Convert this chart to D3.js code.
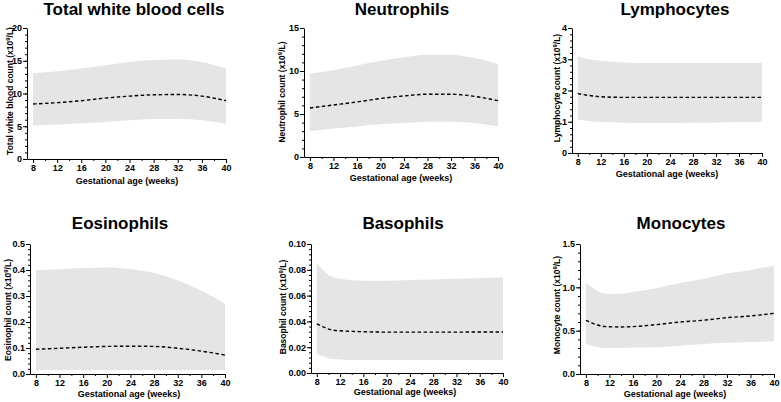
<!DOCTYPE html>
<html><head><meta charset="utf-8">
<script src="https://cdn.jsdelivr.net/npm/d3@7"></script>
<style>body{margin:0;background:#fff}svg{display:block;font-family:Arial,"Liberation Sans",sans-serif}</style>
</head><body><svg id="c" width="781" height="402"></svg>
<script>
// ---- data ----
const titles = ["Total white blood cells","Neutrophils","Lymphocytes","Eosinophils","Basophils","Monocytes"];
const yLabels = ["Total white blood count (x10","Neutrophil count (x10","Lymphocyte count (x10","Eosinophil count (x10","Basophil count  (x10","Monocyte count (x10"];
const xLabel = "Gestational age (weeks)";
const xTicks = [8,12,16,20,24,28,32,36,40];
const yMax = [20,15,4,0.5,0.10,1.5];
const yStep = [5,5,1,0.1,0.02,0.5];
const yDecimals = [0,0,0,1,2,1];

const wbcWeeks = [8,12,16,20,24,28,32,36,40];
const wbcUpper = [13.1,13.4,13.8,14.3,14.8,15.1,15.2,14.8,13.8];
const wbcLower = [5.1,5.25,5.45,5.65,5.9,6.1,6.1,5.9,5.4];
const wbcMedian = [8.4,8.6,8.9,9.3,9.6,9.8,9.85,9.6,8.9];

const neuWeeks = [8,12,16,20,24,28,32,36,40];
const neuUpper = [9.7,10.1,10.65,11.15,11.6,11.9,11.9,11.5,10.8];
const neuLower = [3.0,3.3,3.55,3.8,3.95,4.1,4.1,3.95,3.55];
const neuMedian = [5.7,6.05,6.4,6.8,7.1,7.3,7.3,7.05,6.55];

const lymWeeks = [8,10,12,16,20,24,28,32,36,40];
const lymUpper = [3.09,3.0,2.95,2.9,2.88,2.88,2.88,2.88,2.88,2.88];
const lymLower = [1.07,1.02,1.0,0.97,0.96,0.96,0.97,0.98,0.99,1.0];
const lymMedian = [1.9,1.84,1.8,1.78,1.78,1.78,1.78,1.78,1.78,1.78];

const eosWeeks = [8,12,16,20,24,28,32,36,40];
const eosUpper = [0.399,0.403,0.408,0.41,0.404,0.388,0.36,0.32,0.27];
const eosLower = [0.015,0.015,0.015,0.015,0.015,0.015,0.015,0.015,0.015];
const eosMedian = [0.095,0.099,0.103,0.106,0.107,0.106,0.099,0.088,0.073];

const basWeeks = [8,9,10,12,16,20,24,28,32,36,40];
const basUpper = [0.085,0.080,0.076,0.073,0.0715,0.0715,0.072,0.0725,0.073,0.0735,0.074];
const basLower = [0.015,0.013,0.0115,0.0105,0.010,0.010,0.010,0.010,0.010,0.010,0.010];
const basMedian = [0.038,0.036,0.034,0.0327,0.032,0.0317,0.0317,0.0317,0.0317,0.0318,0.0318];

const monWeeks = [8,9,10,12,14,16,20,24,28,32,36,40];
const monUpper = [1.05,1.0,0.955,0.92,0.925,0.945,0.99,1.05,1.1,1.16,1.2,1.25];
const monLower = [0.35,0.325,0.31,0.30,0.30,0.305,0.31,0.325,0.345,0.36,0.37,0.375];
const monMedian = [0.62,0.59,0.565,0.545,0.543,0.547,0.57,0.6,0.62,0.65,0.67,0.70];

const series = [
  [wbcWeeks,wbcUpper,wbcLower,wbcMedian],
  [neuWeeks,neuUpper,neuLower,neuMedian],
  [lymWeeks,lymUpper,lymLower,lymMedian],
  [eosWeeks,eosUpper,eosLower,eosMedian],
  [basWeeks,basUpper,basLower,basMedian],
  [monWeeks,monUpper,monLower,monMedian]
];

// ---- layout (pixels) ----
const layout = [
  {ax:27, x40:226, top:28, y0:159, tx:134, ty:15, ylx:10, yly:91, xlx:127, xly:184},
  {ax:304, x40:498, top:28, y0:157, tx:402, ty:15, ylx:282, yly:92, xlx:401, xly:181},
  {ax:572, x40:762, top:28, y0:153, tx:675, ty:15, ylx:557, yly:88, xlx:667, xly:177},
  {ax:30, x40:225, top:244, y0:374, tx:120, ty:229, ylx:8, yly:310, xlx:129, xly:397},
  {ax:311, x40:503, top:244, y0:373, tx:403, ty:229, ylx:283, yly:307, xlx:405, xly:395},
  {ax:580, x40:774, top:244, y0:374, tx:681, ty:229, ylx:557, yly:305, xlx:675, xly:397}
];

const svg = d3.select("#c");

series.forEach((s,i)=>{
  const L = layout[i];
  const [weeks,upper,lower,median] = s;
  const data = weeks.map((w,j)=>({w,u:upper[j],l:lower[j],m:median[j]}));
  const x = d3.scaleLinear().domain([7,40]).range([L.ax,L.x40]);
  const y = d3.scaleLinear().domain([0,yMax[i]]).range([L.y0,L.top]);
  const g = svg.append("g");

  g.append("path").datum(data)
    .attr("d", d3.area().curve(d3.curveMonotoneX).x(d=>x(d.w)).y0(d=>y(d.l)).y1(d=>y(d.u)))
    .attr("fill","#e5e5e5");
  g.append("path").datum(data)
    .attr("d", d3.line().curve(d3.curveMonotoneX).x(d=>x(d.w)).y(d=>y(d.m)))
    .attr("fill","none").attr("stroke","#000").attr("stroke-width",1.4).attr("stroke-dasharray","3.5,2.5");

  // minor ticks
  const minorY = d3.range(0, yMax[i]+1e-9, yStep[i]/5);
  g.append("g").attr("transform",`translate(${L.ax},0)`)
    .call(d3.axisLeft(y).tickValues(minorY).tickSize(2).tickFormat(""))
    .call(a=>a.select(".domain").remove());
  const minorX = d3.range(10, 40, 4);
  g.append("g").attr("transform",`translate(0,${L.y0})`)
    .call(d3.axisBottom(x).tickValues(minorX).tickSize(2).tickFormat(""))
    .call(a=>a.select(".domain").remove());

  // major axes
  const majorY = d3.range(0, yMax[i]+1e-9, yStep[i]);
  g.append("g").attr("transform",`translate(${L.ax},0)`)
    .call(d3.axisLeft(y).tickValues(majorY).tickSize(4).tickSizeOuter(0).tickPadding(1).tickFormat(d3.format(`.${yDecimals[i]}f`)))
    .call(a=>a.selectAll("text").attr("font-size",9).attr("font-weight","bold").attr("fill","#000"));
  g.append("g").attr("transform",`translate(0,${L.y0})`)
    .call(d3.axisBottom(x).tickValues(xTicks).tickSize(4).tickSizeOuter(0).tickPadding(2))
    .call(a=>a.selectAll("text").attr("font-size",9).attr("font-weight","bold").attr("fill","#000"));
  g.selectAll(".domain,.tick line").attr("stroke","#000").attr("stroke-width",1);

  // texts
  g.append("text").attr("x",L.tx).attr("y",L.ty).attr("text-anchor","middle")
    .attr("font-size",17).attr("font-weight","bold").text(titles[i]);
  g.append("text").attr("x",L.xlx).attr("y",L.xly).attr("text-anchor","middle")
    .attr("font-size",9).attr("font-weight","bold").text(xLabel);
  const yl = g.append("text").attr("transform",`translate(${L.ylx+3},${L.yly}) rotate(-90)`)
    .attr("text-anchor","middle").attr("font-size",8.5).attr("font-weight","bold");
  yl.append("tspan").text(yLabels[i]);
  yl.append("tspan").attr("font-size",6).attr("dy",-3).text("9");
  yl.append("tspan").attr("dy",3).text("/L)");
});
</script></body></html>
